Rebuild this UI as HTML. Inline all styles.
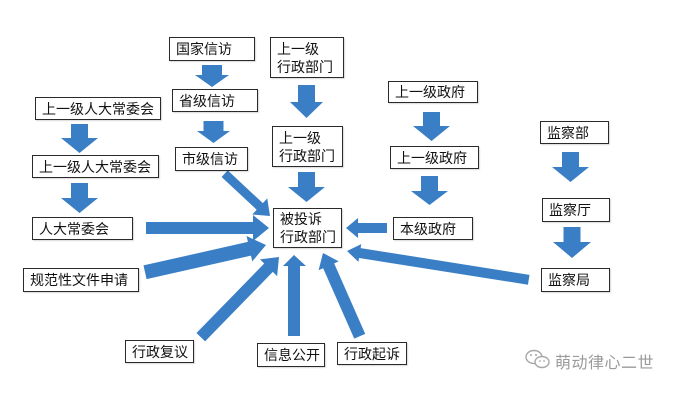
<!DOCTYPE html>
<html><head><meta charset="utf-8">
<style>
html,body{margin:0;padding:0;background:#fff;}
#c{position:relative;width:677px;height:402px;overflow:hidden;background:#fff;font-family:"Liberation Sans","Noto Sans CJK SC",sans-serif;}
.b{position:absolute;box-sizing:border-box;border:1.5px solid #2a2a2a;background:#fff;font-size:14px;line-height:18px;color:#111;padding-left:6px;display:flex;flex-direction:column;justify-content:center;white-space:nowrap;box-shadow:1px 1px 1px rgba(0,0,0,0.15);}
svg{position:absolute;left:0;top:0;}
.wm{position:absolute;left:555px;top:349px;font-size:16px;color:#9a9a9a;letter-spacing:0.5px;white-space:nowrap;}
</style></head><body>
<div id="c">
<svg width="677" height="402" viewBox="0 0 677 402">
<g fill="#3a7fc6">
<!-- vertical down arrows -->
<polygon points="202,65 222,65 222,75 229,75 212,87 195,75 202,75"/>
<polygon points="203.5,121 223.5,121 223.5,131 230,131 213.5,143 197,131 203.5,131"/>
<polygon points="71,124 88,124 88,138 98,138 79.5,153 61,138 71,138"/>
<polygon points="71,183 88,183 88,198 98,198 79.5,213 61,198 71,198"/>
<polygon points="298,85 315,85 315,102 323,102 306.5,118 290,102 298,102"/>
<polygon points="298,172 315,172 315,187 325,187 306.5,202 288,187 298,187"/>
<polygon points="423,112 440,112 440,126 450,126 431.5,141 413,126 423,126"/>
<polygon points="421,176 438,176 438,191 448,191 429.5,205 411,191 421,191"/>
<polygon points="562,152 579,152 579,167 589,167 570.5,182 552,167 562,167"/>
<polygon points="563.5,227 580.5,227 580.5,242 591,242 572,258 553,242 563.5,242"/>
<!-- horizontal -->
<polygon points="146,222 253,222 253,215 269,228 253,241 253,234 146,234"/>
<polygon points="387,223 358,223 358,218 346,228 358,238 358,233 387,233"/>
<!-- info open up -->
<polygon points="288,336 300,336 300,266 306,266 294,255 283,266 288,266"/>
<!-- diagonals: tip at origin, pointing +x -->
<g transform="translate(266,245) rotate(-12.7)"><polygon points="-124,-7 -17,-7 -17,-13 0,0 -17,13 -17,7 -124,7"/></g>
<g transform="translate(270,216) rotate(43)"><polygon points="-62,-4.5 -14,-4.5 -14,-11 0,0 -14,11 -14,4.5 -62,4.5"/></g>
<g transform="translate(279,257) rotate(-45.7)"><polygon points="-112,-6 -15,-6 -15,-12 0,0 -15,12 -15,6 -112,6"/></g>
<g transform="translate(323,253) rotate(-113.8)"><polygon points="-91,-6 -14,-6 -14,-11 0,0 -14,11 -14,6 -91,6"/></g>
<g transform="translate(347,251) rotate(-171)"><polygon points="-184,-5 -13,-5 -13,-9 0,0 -13,9 -13,5 -184,5"/></g>
</g>
<!-- watermark icon -->
<g fill="none" stroke="#a8a8a8" stroke-width="1.4">
<ellipse cx="534" cy="357" rx="8" ry="6.5"/>
<ellipse cx="542" cy="362" rx="7" ry="5.5" fill="#fff"/>
</g>
<g fill="#a8a8a8"><circle cx="531" cy="355" r="1"/><circle cx="536" cy="355" r="1"/><circle cx="540" cy="361" r="0.9"/><circle cx="544" cy="361" r="0.9"/></g>
</svg>

<div class="b" style="left:169px;top:37px;width:86px;height:24px;">国家信访</div>
<div class="b" style="left:270px;top:37px;width:74px;height:41px;"><span>上一级</span><span>行政部门</span></div>
<div class="b" style="left:172px;top:89px;width:86px;height:23px;">省级信访</div>
<div class="b" style="left:175px;top:147px;width:73px;height:24px;">市级信访</div>
<div class="b" style="left:35px;top:97px;width:126px;height:23px;">上一级人大常委会</div>
<div class="b" style="left:32px;top:155px;width:127px;height:23px;">上一级人大常委会</div>
<div class="b" style="left:32px;top:217px;width:101px;height:23px;">人大常委会</div>
<div class="b" style="left:23px;top:268px;width:116px;height:24px;">规范性文件申请</div>
<div class="b" style="left:272px;top:126px;width:71px;height:41px;"><span>上一级</span><span>行政部门</span></div>
<div class="b" style="left:273px;top:208px;width:69px;height:40px;"><span>被投诉</span><span>行政部门</span></div>
<div class="b" style="left:388px;top:81px;width:90px;height:22px;">上一级政府</div>
<div class="b" style="left:390px;top:146px;width:89px;height:23px;">上一级政府</div>
<div class="b" style="left:393px;top:217px;width:80px;height:23px;">本级政府</div>
<div class="b" style="left:540px;top:121px;width:69px;height:23px;">监察部</div>
<div class="b" style="left:542px;top:198px;width:68px;height:24px;">监察厅</div>
<div class="b" style="left:541px;top:268px;width:69px;height:24px;">监察局</div>
<div class="b" style="left:125px;top:340px;width:69px;height:23px;">行政复议</div>
<div class="b" style="left:257px;top:343px;width:68px;height:24px;">信息公开</div>
<div class="b" style="left:337px;top:342px;width:70px;height:23px;">行政起诉</div>

<div class="wm">萌动律心二世</div>
</div>
</body></html>
